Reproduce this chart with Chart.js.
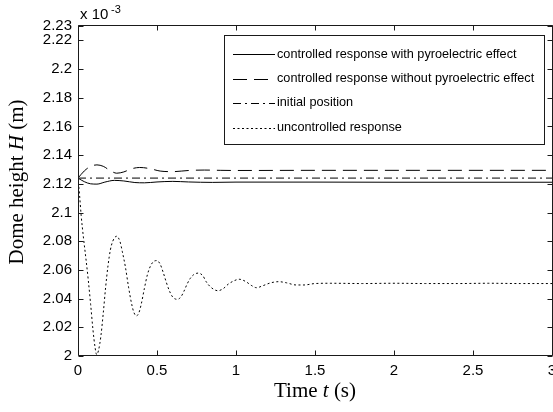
<!DOCTYPE html>
<html>
<head>
<meta charset="utf-8">
<script src="https://cdn.jsdelivr.net/npm/chart.js@4.4.1/dist/chart.umd.min.js"></script>
<style>
  html, body { margin: 0; padding: 0; background: #fff; }
  canvas { display: block; }
</style>
</head>
<body>
<canvas id="c" width="553" height="412"></canvas>
<script>
// Axis ticks (height in units of 1e-3 m)
const xTicks = [0, 0.5, 1, 1.5, 2, 2.5, 3];
const yTicks = [2, 2.02, 2.04, 2.06, 2.08, 2.1, 2.12, 2.14, 2.16, 2.18, 2.2, 2.22, 2.23];

const seriesNames = [
  'controlled response with pyroelectric effect',
  'controlled response without pyroelectric effect',
  'initial position',
  'uncontrolled response'
];

// Controlled response, with pyroelectric effect
const tWithPyro = [0, 0.04, 0.08, 0.12, 0.17, 0.23, 0.29, 0.36, 0.42, 0.5, 0.6, 0.7, 0.85, 1.0, 1.5, 2.0, 2.5, 3.0];
const hWithPyro = [2.124, 2.1215, 2.1200, 2.1198, 2.1212, 2.1224, 2.1220, 2.1209, 2.1207, 2.1213, 2.1217, 2.1213, 2.1210, 2.1212, 2.1212, 2.1211, 2.1211, 2.1211];

// Controlled response, without pyroelectric effect
const tNoPyro = [0, 0.04, 0.08, 0.12, 0.16, 0.2, 0.245, 0.29, 0.34, 0.39, 0.45, 0.52, 0.6, 0.7, 0.8, 0.9, 1.0, 1.5, 2.0, 2.5, 3.0];
const hNoPyro = [2.124, 2.129, 2.1322, 2.1332, 2.1322, 2.1295, 2.1274, 2.1283, 2.1305, 2.1314, 2.1307, 2.1289, 2.1285, 2.1293, 2.1296, 2.1294, 2.1293, 2.1294, 2.1294, 2.1294, 2.1294];

// Initial position
const tInitial = [0, 3];
const hInitial = [2.124, 2.124];

// Uncontrolled response
const tUncontrolled = [0, 0.01, 0.02, 0.035, 0.05, 0.065, 0.08, 0.095, 0.108, 0.118, 0.13, 0.145, 0.16, 0.175, 0.19, 0.205, 0.22, 0.245, 0.265, 0.28, 0.3, 0.32, 0.34, 0.355, 0.37, 0.385, 0.4, 0.42, 0.44, 0.46, 0.48, 0.5, 0.52, 0.54, 0.56, 0.58, 0.6, 0.628, 0.65, 0.67, 0.69, 0.71, 0.73, 0.76, 0.79, 0.81, 0.84, 0.885, 0.92, 0.95, 0.98, 1.02, 1.06, 1.1, 1.13, 1.17, 1.22, 1.27, 1.32, 1.38, 1.43, 1.5, 1.6, 1.8, 2.0, 2.2, 2.4, 2.6, 2.8, 3.0];
const hUncontrolled = [2.124, 2.112, 2.098, 2.082, 2.068, 2.053, 2.036, 2.018, 2.006, 2.001, 2.004, 2.014, 2.030, 2.048, 2.063, 2.074, 2.080, 2.0835, 2.080, 2.073, 2.062, 2.048, 2.036, 2.030, 2.028, 2.030, 2.036, 2.047, 2.057, 2.063, 2.066, 2.0665, 2.064, 2.058, 2.051, 2.045, 2.041, 2.0395, 2.041, 2.045, 2.050, 2.054, 2.0565, 2.0578, 2.056, 2.052, 2.048, 2.0455, 2.047, 2.050, 2.052, 2.0535, 2.052, 2.049, 2.0476, 2.049, 2.051, 2.0518, 2.051, 2.0495, 2.0495, 2.0505, 2.0507, 2.0505, 2.0507, 2.0505, 2.0505, 2.0507, 2.0505, 2.0505];

const toPoints = (ts, hs) => ts.map((t, i) => ({ x: t, y: hs[i] }));

const INK = '#000';
const TICK_FONT = '"Liberation Sans", Arial, Helvetica, sans-serif';
const SERIF = '"Liberation Serif", "Times New Roman", serif';

function lineSet(label, pts, dash) {
  return {
    label, data: pts, borderColor: INK, borderWidth: 1, borderDash: dash,
    pointRadius: 0, fill: false, cubicInterpolationMode: 'monotone'
  };
}

// Closed frame with inward ticks on all four sides
const framePlugin = {
  id: 'frame',
  afterDatasetsDraw(chart) {
    const { ctx, chartArea: a, scales } = chart;
    const L = Math.round(a.left) + 0.5, R = Math.round(a.right) + 0.5;
    const T = Math.round(a.top) - 0.5, B = Math.round(a.bottom) - 0.5;
    const len = 5;
    ctx.save();
    ctx.strokeStyle = '#1a1a1a';
    ctx.lineWidth = 1;
    ctx.setLineDash([]);
    ctx.beginPath();
    ctx.rect(L, T, R - L, B - T);
    scales.x.ticks.forEach(tk => {
      const px = Math.round(scales.x.getPixelForValue(tk.value)) + 0.5;
      ctx.moveTo(px, B); ctx.lineTo(px, B - len);
      ctx.moveTo(px, T); ctx.lineTo(px, T + len);
    });
    scales.y.ticks.forEach(tk => {
      const py = Math.round(scales.y.getPixelForValue(tk.value)) + 0.5;
      ctx.moveTo(L, py); ctx.lineTo(L + len, py);
      ctx.moveTo(R, py); ctx.lineTo(R - len, py);
    });
    ctx.stroke();
    ctx.restore();
  }
};

// Boxed legend in the upper right of the plot
const boxLegendPlugin = {
  id: 'boxLegend',
  afterDraw(chart) {
    const { ctx } = chart;
    const box = { x: 224.5, y: 35.5, w: 320, h: 109 };
    const rows = [54, 78.5, 102.5, 127.5];
    ctx.save();
    ctx.fillStyle = '#fff';
    ctx.fillRect(box.x, box.y, box.w, box.h);
    ctx.strokeStyle = '#1a1a1a';
    ctx.lineWidth = 1;
    ctx.setLineDash([]);
    ctx.strokeRect(box.x, box.y, box.w, box.h);
    chart.data.datasets.forEach((ds, i) => {
      const y = Math.round(rows[i]) + 0.5;
      ctx.strokeStyle = ds.borderColor;
      ctx.lineWidth = ds.borderWidth;
      ctx.setLineDash(ds.borderDash || []);
      ctx.beginPath();
      ctx.moveTo(233, y);
      ctx.lineTo(275, y);
      ctx.stroke();
      ctx.setLineDash([]);
      ctx.fillStyle = INK;
      ctx.font = '12.7px ' + TICK_FONT;
      ctx.textBaseline = 'middle';
      ctx.textAlign = 'left';
      ctx.fillText(ds.label, 277, rows[i]);
    });
    ctx.restore();
  }
};

function drawRuns(ctx, runs, x, y, align) {
  let total = 0;
  runs.forEach(r => { ctx.font = r.font; r.w = ctx.measureText(r.text).width; total += r.w; });
  let cx = align === 'center' ? x - total / 2 : x;
  runs.forEach(r => { ctx.font = r.font; ctx.fillText(r.text, cx, y); cx += r.w; });
}

// Axis titles and the exponent marker
const titlesPlugin = {
  id: 'titles',
  afterDraw(chart) {
    const { ctx, chartArea: a } = chart;
    ctx.save();
    ctx.fillStyle = INK;
    ctx.textAlign = 'left';
    ctx.textBaseline = 'alphabetic';
    const up = '21px ' + SERIF, it = 'italic 21px ' + SERIF;
    drawRuns(ctx, [
      { text: 'Time ', font: up }, { text: 't', font: it }, { text: ' (s)', font: up }
    ], (a.left + a.right) / 2, 397, 'center');

    ctx.save();
    ctx.translate(23, 182);
    ctx.rotate(-Math.PI / 2);
    drawRuns(ctx, [
      { text: 'Dome height ', font: up }, { text: 'H', font: it }, { text: ' (m)', font: up }
    ], 0, 0, 'center');
    ctx.restore();

    ctx.font = '15px ' + TICK_FONT;
    ctx.fillText('x 10', 80, 18.5);
    ctx.font = '11px ' + TICK_FONT;
    ctx.fillText('-3', 111, 12.5);
    ctx.restore();
  }
};

new Chart(document.getElementById('c'), {
  type: 'line',
  data: {
    datasets: [
      lineSet(seriesNames[0], toPoints(tWithPyro, hWithPyro), []),
      lineSet(seriesNames[1], toPoints(tNoPyro, hNoPyro), [14, 7]),
      lineSet(seriesNames[2], toPoints(tInitial, hInitial), [8, 4, 2, 4]),
      lineSet(seriesNames[3], toPoints(tUncontrolled, hUncontrolled), [2, 2.5])
    ]
  },
  options: {
    responsive: false,
    animation: false,
    devicePixelRatio: 1,
    layout: { padding: { top: 26, right: 1, left: 0, bottom: 0 } },
    plugins: { legend: { display: false }, tooltip: { enabled: false } },
    scales: {
      x: {
        type: 'linear', min: 0, max: 3,
        afterBuildTicks: s => { s.ticks = xTicks.map(v => ({ value: v })); },
        afterFit: s => { s.height = 56; s.paddingLeft = 0; s.paddingRight = 0; },
        grid: { display: false, drawTicks: false },
        border: { display: false },
        ticks: {
          color: INK, padding: 6, maxRotation: 0, autoSkip: false,
          font: { family: TICK_FONT, size: 15 },
          callback: v => String(Number(v.toFixed(2)))
        }
      },
      y: {
        type: 'linear', min: 2, max: 2.23,
        afterBuildTicks: s => { s.ticks = yTicks.map(v => ({ value: v })); },
        afterFit: s => { s.width = 78; s.paddingTop = 0; s.paddingBottom = 0; },
        grid: { display: false, drawTicks: false },
        border: { display: false },
        ticks: {
          color: INK, padding: 6, autoSkip: false,
          font: { family: TICK_FONT, size: 15 },
          callback: v => String(Number(v.toFixed(2)))
        }
      }
    }
  },
  plugins: [framePlugin, boxLegendPlugin, titlesPlugin]
});
</script>
</body>
</html>
